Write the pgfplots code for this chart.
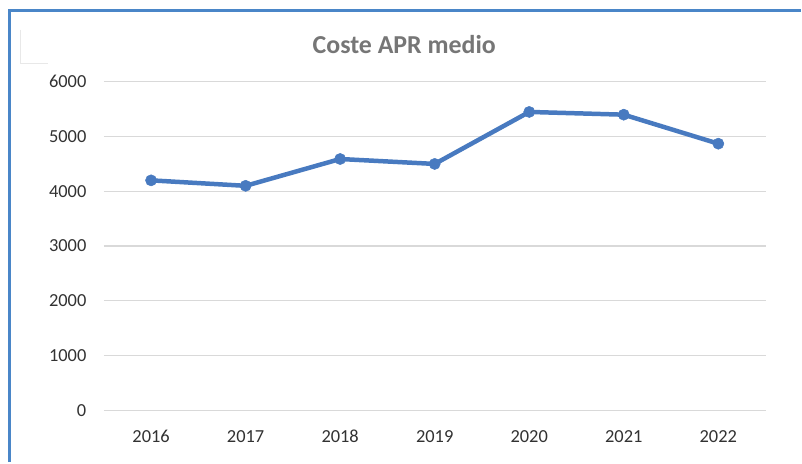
\documentclass[border=0pt]{standalone}
\usepackage{fontspec}
\setmainfont{Carlito}
\usepackage{pgfplots}
\pgfplotsset{compat=1.18}
\definecolor{linec}{RGB}{72,122,192}
\definecolor{framec}{RGB}{74,134,200}
\definecolor{gridc}{RGB}{217,217,217}
\definecolor{titlec}{RGB}{118,118,118}
\definecolor{tickc}{RGB}{50,50,50}
\begin{document}
\begin{tikzpicture}[x=1bp,y=1bp]
\path[fill=white] (0,0) rectangle (802,463);
\draw[framec, line width=3bp] (10,0) -- (10,452) -- (802,452);
\draw[gridc!60, line width=0.8bp] (20,433) -- (20,399) -- (48,399);
\node[font=\bfseries\fontsize{26}{30}\selectfont, text=titlec] at (405,418) {Coste APR medio};
\begin{axis}[
  at={(104bp,52bp)}, anchor=south west,
  scale only axis, width=663bp, height=329bp,
  xmin=-0.5, xmax=6.5, ymin=0, ymax=6000,
  xtick={0,...,6},
  xticklabels={2016,2017,2018,2019,2020,2021,2022},
  ytick={0,1000,...,6000},
  ymajorgrids, grid style={gridc, line width=1.2bp},
  axis line style={draw=none},
  major tick length=0pt,
  tick label style={font=\fontsize{18.5}{22}\selectfont, text=tickc},
  /pgf/number format/assume math mode=true,
  /pgf/number format/1000 sep={},
  yticklabel style={anchor=east, xshift=-14bp},
  xticklabel style={anchor=center, yshift=-26bp},
  clip=false,
]
\addplot[linec, line width=4.5bp, mark=*, mark size=5.6bp, mark options={fill=linec, draw=linec, line width=0.5bp}]
  coordinates {(0,4200) (1,4100) (2,4590) (3,4500) (4,5450) (5,5400) (6,4870)};
\end{axis}
\end{tikzpicture}
\end{document}
